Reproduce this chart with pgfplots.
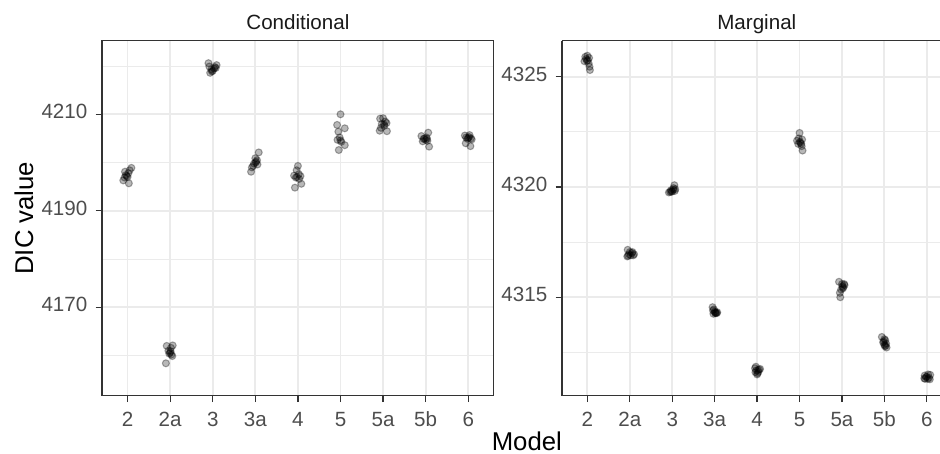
\documentclass[border=0pt]{standalone}
\usepackage{pgfplots}
\pgfplotsset{compat=1.18}
\usepackage{fontspec}
\setmainfont{Liberation Sans}

\definecolor{gridgray}{HTML}{EBEBEB}
\definecolor{framegray}{HTML}{333333}
\definecolor{tickgray}{HTML}{4D4D4D}
\definecolor{stripgray}{HTML}{1A1A1A}

\pgfplotsset{
  facet/.style={
    scale only axis, height=151.7pt,
    xmin=-0.6,
    xtick={0,1,2,3,4,5,6,7,8},
    xticklabels={2,2a,3,3a,4,5,5a,5b,6},
    typeset ticklabels with strut,
    tick align=outside, major tick length=2.75pt, minor tick length=0pt,
    xtick pos=bottom, ytick pos=left,
    tick style={framegray, line width=0.55pt},
    axis line style={framegray, line width=0.55pt},
    tick label style={font=\fontsize{8.8pt}{10pt}\selectfont, text=tickgray},
    /pgf/number format/assume math mode=true,
    /pgf/number format/1000 sep={}, scaled ticks=false,
    xmajorgrids, ymajorgrids, yminorgrids,
    major grid style={gridgray, line width=0.8pt},
    minor grid style={gridgray, line width=0.4pt},
  },
  dots/.style={only marks, mark=*, mark size=1.5pt,
    mark options={fill=black, draw=black, fill opacity=0.28, draw opacity=0.32, line width=0.45pt}},
}

\begin{document}
\begin{tikzpicture}
\useasboundingbox (-43.6pt,-24.9pt) rectangle (358.2pt,169.1pt);
\begin{axis}[facet, width=167.5pt, xmax=8.6,
  ymin=4151.7, ymax=4225.25,
  ytick={4170,4190,4210}, minor ytick={4160,4180,4200,4220}]
\addplot[dots] coordinates {
(0.09,4198.9) (0.05,4198.4) (-0.06,4198.1) (-0.1,4196.3) (0.03,4195.7) (-0.04,4197.4) (0.0,4197.0) (-0.07,4196.9) (0.02,4197.8) (-0.02,4197.2)
(0.92,4162.0) (1.06,4162.1) (1.02,4161.6) (0.96,4161.0) (1.0,4160.6) (1.03,4160.2) (1.05,4159.9) (0.98,4160.4) (0.9,4158.4) (1.01,4160.9)
(1.9,4220.6) (2.09,4220.2) (2.05,4219.8) (1.97,4219.3) (2.0,4219.0) (1.92,4219.9) (1.94,4218.6) (2.03,4219.5) (2.07,4219.6) (1.98,4218.9)
(3.08,4202.1) (2.9,4198.1) (2.92,4199.0) (3.0,4200.9) (3.02,4200.2) (3.05,4199.6) (2.97,4199.8) (3.04,4200.5) (2.95,4199.3) (3.01,4200.0)
(4.0,4199.3) (3.97,4198.4) (4.06,4197.2) (3.91,4197.3) (4.03,4196.6) (3.95,4196.9) (4.08,4195.6) (3.93,4194.8) (4.02,4197.6) (3.98,4197.0)
(5.0,4210.0) (4.92,4207.8) (5.1,4207.1) (4.95,4206.4) (4.98,4205.2) (4.93,4204.7) (5.02,4204.3) (5.1,4203.6) (4.96,4202.6) (5.0,4204.6)
(5.93,4209.1) (6.0,4209.2) (6.05,4208.5) (6.08,4208.2) (5.97,4208.0) (6.02,4207.9) (5.92,4206.6) (6.09,4206.5) (5.95,4207.2) (6.03,4207.6)
(6.9,4205.5) (7.06,4206.2) (6.97,4205.0) (7.0,4204.7) (7.03,4204.9) (6.93,4204.4) (7.08,4203.3) (7.02,4205.2) (6.95,4204.9) (7.04,4204.5)
(7.92,4205.6) (8.03,4205.7) (8.0,4205.1) (8.06,4205.0) (7.95,4205.2) (8.08,4204.8) (7.94,4204.0) (8.05,4203.4) (7.98,4204.9) (8.02,4205.3)
};
\end{axis}
\begin{axis}[facet, at={(196.6pt,0pt)}, width=161.6pt, xmax=8.31,
  axis x line*=box, axis y line*=left,
  ymin=4310.54, ymax=4326.63,
  ytick={4315,4320,4325}, minor ytick={4312.5,4317.5,4322.5}]
\addplot[dots] coordinates {
(-0.05,4325.9) (0.0,4325.95) (0.04,4325.85) (-0.03,4325.8) (0.01,4325.75) (-0.07,4325.7) (0.03,4325.6) (0.05,4325.45) (0.06,4325.3) (-0.01,4325.72)
(0.95,4317.15) (1.0,4317.05) (1.05,4317.0) (1.08,4316.9) (0.94,4316.85) (1.02,4316.9) (0.98,4316.95) (1.06,4317.05) (1.1,4316.95) (0.96,4316.88)
(2.05,4320.08) (2.03,4319.95) (1.95,4319.78) (1.92,4319.75) (2.0,4319.8) (2.06,4319.82) (2.02,4319.88) (1.98,4319.78) (2.07,4319.9) (1.97,4319.85)
(2.95,4314.55) (2.96,4314.4) (3.0,4314.35) (3.03,4314.3) (3.05,4314.28) (2.97,4314.25) (3.01,4314.3) (3.06,4314.32) (2.98,4314.45) (3.02,4314.27)
(3.97,4311.85) (4.07,4311.75) (4.02,4311.7) (3.96,4311.6) (4.0,4311.5) (4.05,4311.72) (3.98,4311.68) (4.03,4311.62) (3.95,4311.78) (4.01,4311.55)
(5.0,4322.45) (4.94,4322.1) (5.06,4322.15) (4.98,4322.2) (5.02,4322.0) (5.04,4321.95) (4.97,4321.95) (5.05,4321.85) (5.07,4321.65) (5.01,4322.05)
(5.93,4315.7) (6.0,4315.6) (6.06,4315.55) (6.03,4315.45) (5.98,4315.35) (6.01,4315.5) (5.95,4315.2) (5.96,4315.0) (6.02,4315.4) (6.05,4315.6)
(6.94,4313.2) (7.0,4313.1) (7.02,4313.05) (6.97,4312.95) (7.0,4312.85) (7.03,4312.8) (7.05,4312.72) (6.98,4313.0) (7.04,4312.9) (7.01,4312.78)
(7.95,4311.45) (8.03,4311.5) (8.08,4311.48) (8.0,4311.4) (7.96,4311.3) (8.05,4311.35) (8.02,4311.3) (7.98,4311.38) (8.07,4311.28) (7.94,4311.32)
};
\end{axis}
% facet strip labels and shared axis titles
\node[anchor=base, font=\fontsize{8.8pt}{10pt}\selectfont, text=stripgray] at (83.75pt,156.3pt) {Conditional};
\node[anchor=base, font=\fontsize{8.8pt}{10pt}\selectfont, text=stripgray] at (279.9pt,156.3pt) {Marginal};
\node[rotate=90, anchor=base, font=\fontsize{11pt}{13pt}\selectfont] at (-29.4pt,75.85pt) {DIC value};
\node[anchor=base, font=\fontsize{11pt}{13pt}\selectfont] at (181.6pt,-23.6pt) {Model};
\end{tikzpicture}
\end{document}
